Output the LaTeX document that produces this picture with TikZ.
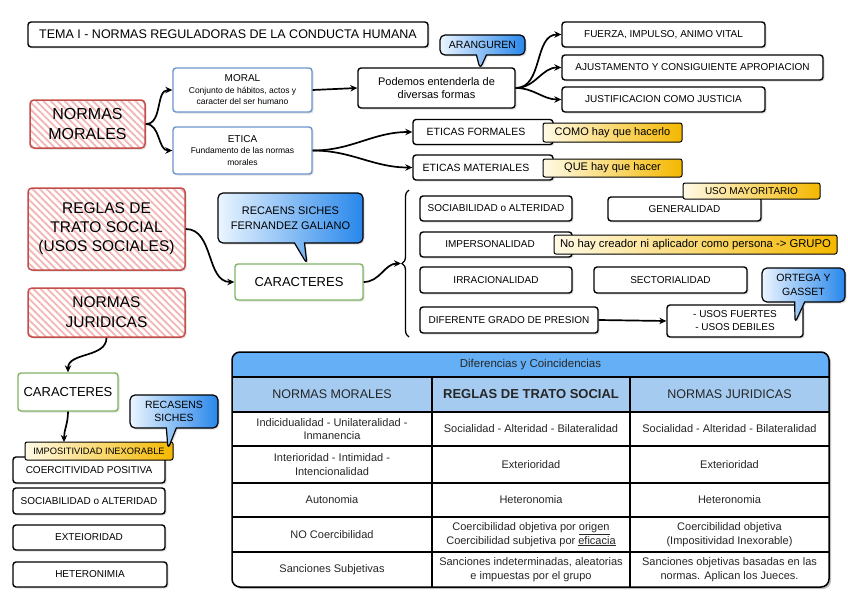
\documentclass[tikz,border=0pt]{standalone}
\usepackage{fontspec}
\setmainfont{Liberation Sans}
\usetikzlibrary{shapes.callouts,shadows,patterns.meta,decorations.pathreplacing,arrows.meta}
\newcommand\myfs[2]{\fontsize{#1}{#2}\selectfont}
\definecolor{redbd}{RGB}{196,78,74}
\definecolor{hatch}{RGB}{242,182,180}
\definecolor{bluebd}{RGB}{108,150,205}
\definecolor{greenbd}{RGB}{130,180,100}
\definecolor{ylwL}{RGB}{255,250,230}
\definecolor{ylwR}{RGB}{244,184,0}
\definecolor{bluL}{RGB}{235,245,255}
\definecolor{bluR}{RGB}{40,135,235}
\definecolor{hdrA}{RGB}{100,175,245}
\definecolor{hdrB}{RGB}{165,203,240}
\tikzset{
  shad/.style={drop shadow={shadow xshift=1.5pt,shadow yshift=-1.5pt,opacity=0.25}},
  box/.style={draw=black, line width=1.4pt, rounded corners=3pt, fill=white, shad, inner sep=2pt, font=\myfs{10}{12}, align=center},
  bluebox/.style={box, draw=bluebd},
  greenbox/.style={box, draw=greenbd, font=\myfs{13}{15}},
  redbox/.style={draw=redbd, line width=1.5pt, rounded corners=4pt, shad, preaction={fill=white},
     pattern={Lines[angle=-45,distance=5pt,line width=1.8pt]}, pattern color=hatch, align=center},
  note/.style={draw=black, line width=1pt, rounded corners=2pt, left color=ylwL, right color=ylwR, inner sep=1pt, font=\myfs{11}{13}},
  callbox/.style={rectangle callout, draw=black, line width=1.2pt, rounded corners=5pt, left color=bluL, right color=bluR,
     callout pointer width=10pt, font=\myfs{10.5}{13}, align=center, shad},
  conn/.style={line width=1.7pt, -{Stealth[length=7pt,width=6.5pt]}},
  cell/.style={font=\myfs{11}{13.5}, align=center, text=black!85},
  hcell/.style={font=\myfs{12.5}{14}, align=center, text=black!85},
}
\begin{document}
\begin{tikzpicture}[x=1pt,y=-1pt]
\fill[white] (0,0) rectangle (848,602);
\useasboundingbox (0,0) rectangle (848,602);

% title
\node[box, minimum width=400, minimum height=25, font=\myfs{12.5}{15}] (title) at (228,34.5) {TEMA I - NORMAS REGULADORAS DE LA CONDUCTA HUMANA};

% normas morales
\node[redbox, minimum width=115, minimum height=48, font=\myfs{16}{20}] (nm) at (87.5,124) {NORMAS\\MORALES};
\node[bluebox, minimum width=139, minimum height=44, font=\myfs{8.5}{11.5}] (moral) at (242.5,90) {{\myfs{10}{11.5}MORAL}\\Conjunto de hábitos, actos y\\caracter del ser humano};
\node[bluebox, minimum width=139, minimum height=47, font=\myfs{8.5}{11.5}] (etica) at (242.5,150.5) {{\myfs{10}{11.5}ETICA}\\Fundamento de las normas\\morales};
\node[box, minimum width=157, minimum height=40, font=\myfs{11}{13.5}] (pod) at (436.5,88) {Podemos entenderla de\\diversas formas};
\coordinate (arP) at (480,69);
\node[callbox, callout absolute pointer=(arP), minimum width=85, minimum height=20] (aran) at (482.5,45) {ARANGUREN};

\node[box, minimum width=203, minimum height=25] (f1) at (663.5,34.5) {FUERZA, IMPULSO, ANIMO VITAL};
\node[box, minimum width=261, minimum height=25] (f2) at (692.5,67.5) {AJUSTAMENTO Y CONSIGUIENTE APROPIACION};
\node[box, minimum width=203, minimum height=25] (f3) at (663.5,99.5) {JUSTIFICACION COMO JUSTICIA};

\node[box, minimum width=140, minimum height=25, font=\myfs{10.5}{12}] (ef) at (483,132) {ETICAS FORMALES\hspace*{14pt}};
\node[note, minimum width=139, minimum height=19] (n1) at (612.5,132.5) {COMO hay que hacerlo};
\node[box, minimum width=140, minimum height=25, font=\myfs{10.5}{12}] (em) at (483,167.5) {ETICAS MATERIALES\hspace*{14pt}};
\node[note, minimum width=139, minimum height=18] (n2) at (612.5,168) {QUE hay que hacer};

% reglas de trato social
\node[redbox, minimum width=157, minimum height=82, font=\myfs{15.5}{19}] (reglas) at (106.5,229) {REGLAS DE\\TRATO SOCIAL\\(USOS SOCIALES)};
\node[redbox, minimum width=157, minimum height=49, font=\myfs{15.5}{20}] (nj) at (106.5,312.5) {NORMAS\\JURIDICAS};
\node[greenbox, minimum width=128, minimum height=36] (car1) at (299,282) {CARACTERES};
\coordinate (reP) at (307,264);
\node[callbox, callout absolute pointer=(reP), minimum width=145, minimum height=50, font=\myfs{11}{15}] (recaens) at (290.5,218) {RECAENS SICHES\\FERNANDEZ GALIANO};

% brace
\draw[line width=1.3pt, decorate, decoration={brace, amplitude=7pt}] (409,337) -- (409,190);
\coordinate (brT) at (401,263.5);

\node[box, minimum width=152, minimum height=25] (sa) at (496,208.5) {SOCIABILIDAD o ALTERIDAD};
\node[box, minimum width=153, minimum height=24] (gen) at (684.5,209) {GENERALIDAD};
\node[note, minimum width=137, minimum height=16, font=\myfs{10}{12}] (n3) at (751.5,191) {USO MAYORITARIO};
\node[box, minimum width=152, minimum height=25] (imp) at (496,244.5) {\hspace*{-12pt}IMPERSONALIDAD};
\node[note, minimum width=283, minimum height=19, font=\myfs{11.3}{13}] (n4) at (695.5,244.5) {No hay creador ni aplicador como persona -> GRUPO};
\node[box, minimum width=152, minimum height=26] (irr) at (496,280) {IRRACIONALIDAD};
\node[box, minimum width=153, minimum height=26] (sec) at (670.5,280) {SECTORIALIDAD};
\node[box, minimum width=178, minimum height=26] (dif) at (509,320) {DIFERENTE GRADO DE PRESION};
\node[box, minimum width=136, minimum height=32, font=\myfs{10}{13}] (usos) at (735,321) {- USOS FUERTES\\- USOS DEBILES};
\coordinate (orP) at (795,323);
\node[callbox, callout absolute pointer=(orP), minimum width=83, minimum height=34, font=\myfs{10.5}{13.5}] (ortega) at (803.5,285) {ORTEGA Y\\GASSET};

% bottom left
\node[greenbox, minimum width=100, minimum height=38] (car2) at (68,392) {CARACTERES};
\node[box, minimum width=152, minimum height=26, font=\myfs{10}{12}] (coer) at (89,470) {COERCITIVIDAD POSITIVA};
\node[note, minimum width=148, minimum height=18, font=\myfs{9.3}{11}] (n5) at (99,451) {IMPOSITIVIDAD INEXORABLE};
\node[box, minimum width=152, minimum height=26, font=\myfs{10}{12}] (soc2) at (89,501) {SOCIABILIDAD o ALTERIDAD};
\node[box, minimum width=152, minimum height=25, font=\myfs{10}{12}] (ext) at (89,537.5) {EXTEIORIDAD};
\node[box, minimum width=154, minimum height=25, font=\myfs{10}{12}] (het) at (90,574.5) {HETERONIMIA};
\coordinate (rcP) at (168,449);
\node[callbox, callout absolute pointer=(rcP), minimum width=88, minimum height=33, font=\myfs{10.5}{13.5}] (recas) at (174,411.5) {RECASENS\\SICHES};
\coordinate (impT) at (64,442);

% table
\fill[black, opacity=0.25, rounded corners=8pt] (234,354) rectangle (831,589);
\begin{scope}
\clip[rounded corners=8pt] (232,352) rectangle (829,587);
\fill[white] (232,352) rectangle (829,587);
\fill[hdrA] (232,352) rectangle (829,377);
\fill[hdrB] (232,377) rectangle (829,412);
\end{scope}
\foreach \yy in {377,412,446,483,517,552} \draw[line width=1.2pt] (232,\yy) -- (829,\yy);
\foreach \xx in {432,630} \draw[line width=1.2pt] (\xx,377) -- (\xx,587);
\draw[line width=1.5pt, rounded corners=8pt] (232,352) rectangle (829,587);

\node[cell, font=\myfs{11.5}{13}] (th) at (530.5,364.5) {Diferencias y Coincidencias};
\node[hcell] (h1) at (332,394.5) {NORMAS MORALES};
\node[hcell, font=\myfs{13}{15}\bfseries] (h2) at (531,394.5) {REGLAS DE TRATO SOCIAL};
\node[hcell] (h3) at (729.5,394.5) {NORMAS JURIDICAS};

\node[cell] (a1) at (332,429) {Indicidualidad - Unilateralidad -\\Inmanencia};
\node[cell] (b1) at (531,429) {Socialidad - Alteridad - Bilateralidad};
\node[cell] (c1) at (729.5,429) {Socialidad - Alteridad - Bilateralidad};
\node[cell] (a2) at (332,464.5) {Interioridad - Intimidad -\\Intencionalidad};
\node[cell] (b2) at (531,464.5) {Exterioridad};
\node[cell] (c2) at (729.5,464.5) {Exterioridad};
\node[cell] (a3) at (332,500) {Autonomia};
\node[cell] (b3) at (531,500) {Heteronomia};
\node[cell] (c3) at (729.5,500) {Heteronomia};
\node[cell] (a4) at (332,534.5) {NO Coercibilidad};
\node[cell] (b4) at (531,534.5) {Coercibilidad objetiva por \underline{origen}\\Coercibilidad subjetiva por \underline{eficacia}};
\node[cell] (c4) at (729.5,534.5) {Coercibilidad objetiva\\(Impositividad Inexorable)};
\node[cell] (a5) at (332,569.5) {Sanciones Subjetivas};
\node[cell] (b5) at (531,569.5) {Sanciones indeterminadas, aleatorias\\e impuestas por el grupo};
\node[cell] (c5) at (729.5,569.5) {Sanciones objetivas basadas en las\\normas. Aplican los Jueces.};

% connectors
\draw[conn] (nm.east) to[out=0,in=180] (moral.west);
\draw[conn] (nm.east) to[out=0,in=180] (etica.west);
\draw[conn] (moral.east) -- (pod.west);
\draw[conn] (pod.east) to[out=0,in=180] (f1.west);
\draw[conn] (pod.east) to[out=0,in=180] (f2.west);
\draw[conn] (pod.east) to[out=0,in=180] (f3.west);
\draw[conn] (etica.east) to[out=0,in=180] (ef.west);
\draw[conn] (etica.east) to[out=0,in=180] (em.west);
\draw[conn] (reglas.east) to[out=0,in=180] (car1.west);
\draw[conn] (car1.east) to[out=0,in=180] (brT);
\draw[conn] (dif.east) -- (usos.west);
\draw[conn] (nj.south) to[out=-90,in=90] (car2.north);
\draw[conn] (car2.south) to[out=-90,in=90] (impT);
\end{tikzpicture}
\end{document}
